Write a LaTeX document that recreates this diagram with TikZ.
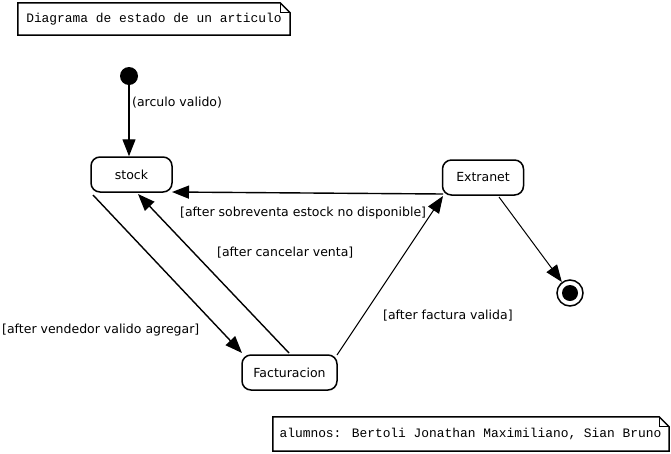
\documentclass[tikz,border=0pt]{standalone}
\usepackage{fontspec}
\setmainfont{DejaVu Sans}
\newfontfamily\notefont{Liberation Mono}
\usetikzlibrary{arrows.meta}
\begin{document}
\begin{tikzpicture}[x=1pt,y=-1pt,
  state/.style={draw,line width=1.5pt,rounded corners=9pt,minimum width=81pt,minimum height=35pt,inner sep=0pt,font=\fontsize{12.5}{14}\selectfont},
  lbl/.style={font=\fontsize{12.5}{14}\selectfont,inner sep=0pt,anchor=west},
  notetext/.style={font=\notefont\fontsize{12.9}{14}\selectfont,inner sep=0pt},
  conn/.style={line width=1.4pt,-{Triangle[length=17pt,width=13pt]}},
  thinconn/.style={line width=1pt,-{Triangle[length=17pt,width=13pt]}}]
\useasboundingbox (0,0) rectangle (671,453);
\fill[white] (0,0) rectangle (671,453);

% note 1
\node[notetext,draw=none,minimum width=272pt,minimum height=32pt] (n1) at (154,19) {Diagrama de estado de un articulo};
\draw[line width=1.5pt] (n1.north west) -- ([xshift=-10pt]n1.north east) -- ([yshift=-10pt]n1.north east) -- (n1.south east) -- (n1.south west) -- cycle;
\draw[line width=1pt] ([xshift=-10pt]n1.north east) |- ([yshift=-10pt]n1.north east);

% note 2
\node[notetext,draw=none,minimum width=397pt,minimum height=34pt] (n2) at (470.5,434) {alumnos: Bertoli Jonathan Maximiliano, Sian Bruno};
\draw[line width=1.5pt] ([xshift=1pt]n2.north west) -- ([xshift=-10pt]n2.north east) -- ([yshift=-10pt]n2.north east) -- (n2.south east) -- ([xshift=1pt]n2.south west) -- cycle;
\draw[line width=1pt] ([xshift=-10pt]n2.north east) |- ([yshift=-10pt]n2.north east);

% states
\node[circle,fill=black,minimum size=18pt,inner sep=0pt] (init) at (129,76) {};
\node[state] (stock) at (131.5,174.5) {stock};
\node[state] (extranet) at (483,177.5) {Extranet};
\node[state,minimum width=95pt] (fact) at (289.5,372.5) {Facturacion};
\node[circle,draw,line width=1.5pt,minimum size=26pt,inner sep=0pt] (final) at (570,293) {};
\node[circle,fill=black,minimum size=16pt,inner sep=0pt] at (final) {};

% connectors
\coordinate (s1) at (93,195);
\coordinate (s2) at (138,194);
\coordinate (s3) at (172,192);
\coordinate (f1) at (242,353);
\coordinate (f2) at (289,353);
\coordinate (f3) at (337,355);
\coordinate (e1) at (443,194);
\coordinate (e2) at (443,196);
\coordinate (e3) at (499,197);
\draw[conn] (init.south) -- (init.south |- stock.north);
\draw[conn] (s1) -- (f1);
\draw[conn] (f2) -- (s2);
\draw[conn] (e1) -- (s3);
\draw[thinconn] (f3) -- (e2);
\draw[thinconn] (e3) -- (final);

% labels
\node[lbl] (l1) at (132,103) {(arculo valido)};
\node[lbl] (l2) at (180,213) {[after sobreventa estock no disponible]};
\node[lbl] (l3) at (217,253) {[after cancelar venta]};
\node[lbl] (l4) at (2,330) {[after vendedor valido agregar]};
\node[lbl] (l5) at (383,316) {[after factura valida]};
\end{tikzpicture}
\end{document}
